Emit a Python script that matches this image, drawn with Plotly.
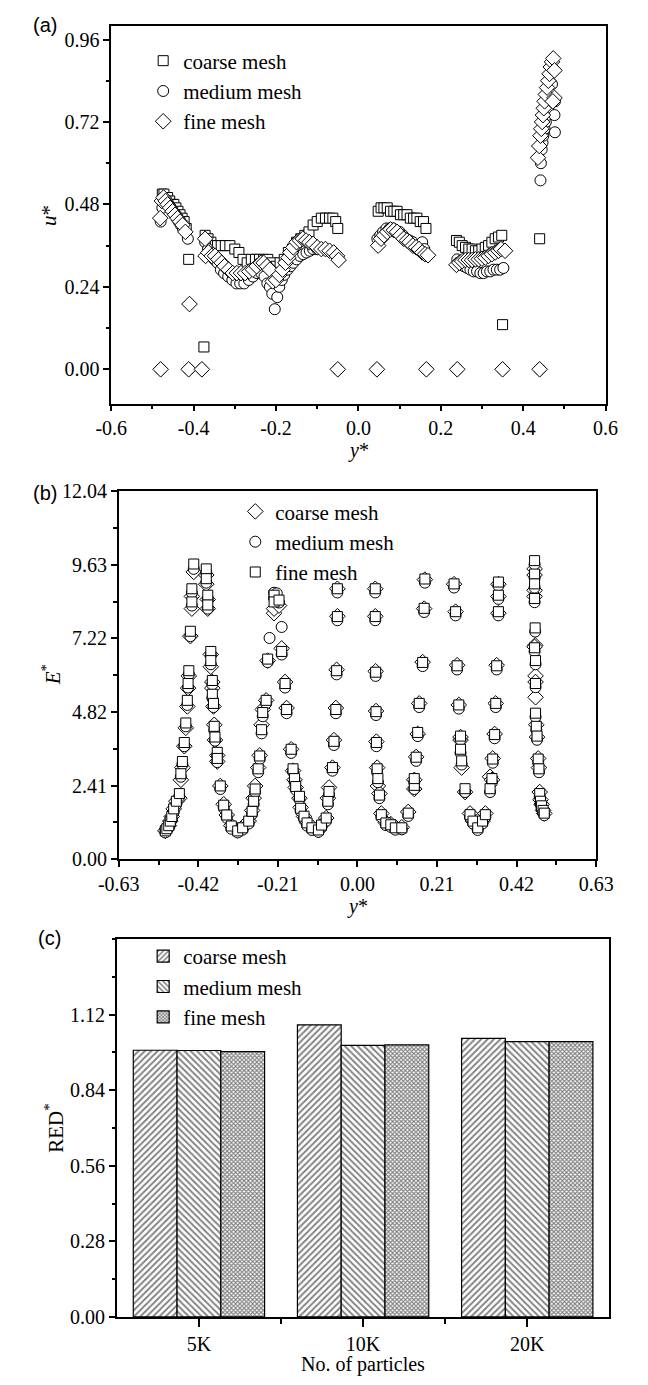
import plotly.graph_objects as go

W, H = 648, 1385
SERIF = "Liberation Serif"
SANS = "Liberation Sans"

# ---------------- panel (a): u* vs y* ----------------
a_coarse_x = [-0.476, -0.472, -0.468, -0.463, -0.458, -0.453, -0.448, -0.443, -0.438, -0.433, -0.428, -0.423, -0.418,
              -0.412, -0.375,
              -0.372, -0.365, -0.358, -0.35, -0.342, -0.333, -0.323, -0.312, -0.3, -0.29, -0.28, -0.27, -0.26, -0.25,
              -0.24, -0.23, -0.22, -0.21, -0.2, -0.19, -0.18, -0.17, -0.16, -0.15, -0.14, -0.13, -0.12, -0.11, -0.1,
              -0.09, -0.08, -0.07, -0.062, -0.055, -0.05,
              0.048, 0.055, 0.062, 0.07, 0.078, 0.086, 0.094, 0.102, 0.11, 0.118, 0.126, 0.134, 0.142, 0.15, 0.158, 0.164,
              0.238, 0.245, 0.252, 0.26, 0.268, 0.276, 0.284, 0.292, 0.3, 0.308, 0.316, 0.324, 0.332, 0.34, 0.348,
              0.35, 0.44]
a_coarse_u = [0.51, 0.51, 0.50, 0.50, 0.49, 0.48, 0.48, 0.47, 0.46, 0.45, 0.44, 0.43, 0.41,
              0.32, 0.065,
              0.39, 0.38, 0.37, 0.36, 0.36, 0.36, 0.36, 0.36, 0.35, 0.34, 0.32, 0.31, 0.32, 0.32,
              0.32, 0.32, 0.32, 0.31, 0.30, 0.31, 0.32, 0.34, 0.35, 0.37, 0.38, 0.39, 0.40, 0.42, 0.43,
              0.44, 0.44, 0.44, 0.44, 0.43, 0.41,
              0.46, 0.47, 0.47, 0.47, 0.46, 0.46, 0.46, 0.45, 0.45, 0.45, 0.44, 0.44, 0.44, 0.43, 0.43, 0.41,
              0.375, 0.37, 0.36, 0.355, 0.35, 0.35, 0.345, 0.345, 0.35, 0.355, 0.36, 0.37, 0.38, 0.385, 0.39,
              0.13, 0.38]

a_medium_x = [-0.48, -0.412, -0.38, -0.05, 0.045, 0.165, 0.24, 0.35, 0.44,
              -0.48, -0.476, -0.471, -0.466, -0.461, -0.456, -0.451, -0.446, -0.441, -0.436, -0.431, -0.426, -0.414,
              -0.372, -0.365, -0.357, -0.35, -0.342, -0.334, -0.326, -0.316, -0.306, -0.296, -0.287, -0.277, -0.266,
              -0.256, -0.246, -0.236, -0.228, -0.221, -0.215, -0.209, -0.203, -0.197, -0.192, -0.186, -0.18, -0.172,
              -0.165, -0.158, -0.15, -0.142, -0.134, -0.126, -0.118, -0.11, -0.1, -0.09, -0.08, -0.07, -0.06, -0.052,
              -0.048,
              0.046, 0.053, 0.06, 0.068, 0.076, 0.084, 0.092, 0.1, 0.108, 0.116, 0.124, 0.132, 0.14, 0.148, 0.155, 0.16,
              0.24, 0.248, 0.256, 0.264, 0.272, 0.28, 0.288, 0.296, 0.304, 0.312, 0.32, 0.328, 0.336, 0.344, 0.352,
              0.442, 0.443, 0.445, 0.447, 0.449, 0.452, 0.455, 0.458, 0.461, 0.477, 0.476, 0.477, 0.47]
a_medium_u = [0.0, 0.0, 0.0, 0.0, 0.0, 0.0, 0.0, 0.0, 0.0,
              0.43, 0.47, 0.49, 0.49, 0.48, 0.47, 0.46, 0.45, 0.44, 0.43, 0.42, 0.41, 0.38,
              0.37, 0.35, 0.34, 0.32, 0.31, 0.29, 0.28, 0.27, 0.26, 0.25, 0.25, 0.25, 0.26,
              0.27, 0.28, 0.28, 0.27, 0.25, 0.24, 0.22, 0.175, 0.21, 0.24, 0.26, 0.275, 0.29,
              0.30, 0.31, 0.32, 0.33, 0.335, 0.34, 0.345, 0.35, 0.35, 0.35, 0.35, 0.345, 0.34, 0.33,
              0.32,
              0.38, 0.39, 0.40, 0.41, 0.41, 0.41, 0.40, 0.40, 0.39, 0.38, 0.375, 0.37, 0.36, 0.36, 0.37, 0.35,
              0.32, 0.31, 0.30, 0.295, 0.29, 0.285, 0.285, 0.28, 0.28, 0.285, 0.285, 0.29, 0.29, 0.29, 0.295,
              0.55, 0.60, 0.64, 0.66, 0.68, 0.70, 0.72, 0.74, 0.76, 0.69, 0.74, 0.78, 0.83]

a_fine_x = [-0.48, -0.412, -0.38, -0.05, 0.045, 0.165, 0.24, 0.35, 0.44,
            -0.41,
            -0.481, -0.477, -0.473, -0.468, -0.463, -0.457, -0.451, -0.445, -0.439, -0.433, -0.427, -0.42,
            -0.372, -0.371, -0.364, -0.356, -0.348, -0.34, -0.332, -0.325, -0.315, -0.305, -0.295, -0.285, -0.275,
            -0.265, -0.256, -0.247, -0.237, -0.23, -0.222, -0.215, -0.208, -0.2, -0.192, -0.184, -0.177, -0.17,
            -0.165, -0.158, -0.15, -0.142, -0.135, -0.127, -0.119, -0.11, -0.1, -0.09, -0.08, -0.07, -0.06, -0.052,
            -0.048,
            0.048, 0.055, 0.062, 0.07, 0.078, 0.086, 0.094, 0.102, 0.11, 0.118, 0.124, 0.132, 0.14, 0.147, 0.155,
            0.162, 0.169,
            0.238, 0.245, 0.252, 0.26, 0.268, 0.276, 0.284, 0.292, 0.3, 0.308, 0.316, 0.324, 0.332, 0.34, 0.346, 0.356,
            0.436, 0.439, 0.442, 0.444, 0.446, 0.448, 0.45, 0.452, 0.455, 0.458, 0.461, 0.464, 0.467, 0.47, 0.473,
            0.476, 0.476, 0.472]
a_fine_u = [0.0, 0.0, 0.0, 0.0, 0.0, 0.0, 0.0, 0.0, 0.0,
            0.19,
            0.44, 0.49, 0.50, 0.49, 0.48, 0.47, 0.46, 0.45, 0.44, 0.43, 0.42, 0.40,
            0.38, 0.33, 0.34, 0.33, 0.33, 0.32, 0.31, 0.30, 0.29, 0.28, 0.28, 0.28, 0.28,
            0.285, 0.29, 0.30, 0.31, 0.31, 0.30, 0.29, 0.256, 0.26, 0.275, 0.29, 0.31, 0.325,
            0.34, 0.355, 0.37, 0.375, 0.38, 0.375, 0.37, 0.365, 0.355, 0.35, 0.35, 0.345, 0.34, 0.33,
            0.318,
            0.36, 0.38, 0.39, 0.40, 0.407, 0.405, 0.40, 0.39, 0.38, 0.375, 0.37, 0.36, 0.355, 0.35, 0.34,
            0.335, 0.332,
            0.304, 0.31, 0.315, 0.318, 0.318, 0.318, 0.32, 0.32, 0.322, 0.325, 0.33, 0.335, 0.34, 0.345, 0.35, 0.345,
            0.616, 0.65, 0.68, 0.70, 0.72, 0.74, 0.76, 0.78, 0.80, 0.82, 0.84, 0.86, 0.88, 0.895, 0.905,
            0.87, 0.79, 0.78]

a_yticks = [0.0, 0.24, 0.48, 0.72, 0.96]
a_yticktext = ["0.00", "0.24", "0.48", "0.72", "0.96"]
a_xticks = [-0.6, -0.4, -0.2, 0.0, 0.2, 0.4, 0.6]
a_xticktext = ["-0.6", "-0.4", "-0.2", "0.0", "0.2", "0.4", "0.6"]

# ---------------- panel (b): E* vs y* ----------------
b_fine_x = [-0.507, -0.503, -0.498, -0.494, -0.49, -0.485, -0.478, -0.47, -0.466, -0.462, -0.457, -0.453, -0.449,
            -0.447, -0.445, -0.441, -0.437, -0.437, -0.432,
            -0.399, -0.399, -0.395, -0.395, -0.387, -0.387, -0.383, -0.383, -0.38, -0.378, -0.376, -0.37, -0.37,
            -0.362, -0.353, -0.345, -0.333, -0.316, -0.303,
            -0.287, -0.278, -0.274, -0.27, -0.262, -0.258, -0.253, -0.25, -0.241, -0.237, -0.22, -0.22,
            -0.207, -0.2, -0.191, -0.187, -0.175, -0.17, -0.166, -0.163, -0.153, -0.15, -0.141, -0.133, -0.12, -0.103,
            -0.095, -0.0825, -0.078, -0.075, -0.066, -0.062, -0.057, -0.055, -0.053, -0.053,
            0.047, 0.047, 0.048, 0.049, 0.05, 0.052, 0.054, 0.058, 0.063, 0.075, 0.088, 0.1, 0.117, 0.134, 0.15,
            0.15, 0.155, 0.159, 0.163, 0.172, 0.176, 0.178,
            0.255, 0.259, 0.263, 0.2675, 0.272, 0.272, 0.275, 0.284, 0.297, 0.305, 0.3175, 0.33, 0.3375, 0.35,
            0.355, 0.357, 0.362, 0.365, 0.3675, 0.372, 0.372, 0.372,
            0.4675, 0.4675, 0.4675, 0.4675, 0.469, 0.4675, 0.47, 0.47, 0.47, 0.472, 0.474, 0.477, 0.479, 0.481,
            0.483, 0.486, 0.49, 0.493]
b_fine_e = [0.93, 1.0, 1.1, 1.25, 1.4, 1.65, 1.9, 2.15, 2.8, 3.2, 3.82, 4.46, 5.2,
            5.75, 6.17, 7.46, 8.42, 8.85, 9.66,
            9.5, 9.18, 8.64, 8.32, 6.8, 6.5, 5.85, 5.4, 5.1, 4.35, 4.0, 3.5, 3.3,
            2.4, 1.77, 1.45, 1.09, 0.93, 1.03,
            1.25, 1.57, 1.9, 2.3, 2.96, 3.38, 4.24, 4.8, 5.2, 6.55, 8.64, 8.42,
            8.48, 6.8, 5.75, 4.9, 3.6, 2.96, 2.64, 2.38, 2.06, 1.67, 1.41, 1.19, 1.03, 0.96,
            1.12, 1.35, 1.9, 2.22, 3.0, 3.86, 4.9, 6.17, 7.94, 8.85,
            8.85, 7.94, 6.12, 4.83, 3.82, 2.96, 2.64, 2.1, 1.46, 1.19, 1.13, 1.03, 1.03, 1.51, 2.42,
            2.64, 3.34, 4.15, 5.1, 6.44, 8.21, 9.17,
            9.01, 8.1, 6.33, 5.05, 4.03, 3.6, 3.22, 2.31, 1.46, 1.25, 1.03, 1.25, 1.46, 2.31,
            2.64, 3.28, 4.08, 5.1, 6.33, 8.1, 8.64, 9.07,
            9.77, 9.33, 9.01, 8.53, 7.57, 6.92, 6.5, 5.75, 4.78, 4.35, 4.03, 3.28, 2.96, 2.15,
            1.9, 1.75, 1.6, 1.51]

b_medium_x = b_fine_x + [-0.232, -0.2, -0.213]
b_medium_e = [0.88, 0.95, 1.05, 1.18, 1.32, 1.55, 1.8, 2.05, 2.7, 3.1, 3.7, 4.35, 5.05,
              5.62, 6.05, 7.3, 8.3, 8.72, 9.5,
              9.38, 9.05, 8.52, 8.2, 6.68, 6.38, 5.72, 5.28, 4.98, 4.22, 3.88, 3.38, 3.18,
              2.3, 1.68, 1.36, 1.0, 0.88, 0.97,
              1.17, 1.48, 1.8, 2.2, 2.85, 3.28, 4.12, 4.68, 5.1, 6.45, 8.72, 8.55,
              8.4, 6.7, 5.62, 4.78, 3.48, 2.86, 2.54, 2.28, 1.96, 1.58, 1.33, 1.1, 0.96, 0.9,
              1.05, 1.26, 1.8, 2.12, 2.9, 3.74, 4.78, 6.05, 7.82, 8.73,
              8.73, 7.82, 6.0, 4.72, 3.7, 2.85, 2.52, 2.0, 1.38, 1.12, 1.06, 0.97, 0.98, 1.42, 2.3,
              2.52, 3.22, 4.03, 4.98, 6.32, 8.09, 9.05,
              8.89, 7.98, 6.21, 4.93, 3.91, 3.48, 3.1, 2.2, 1.38, 1.17, 0.96, 1.17, 1.38, 2.2,
              2.52, 3.16, 3.96, 4.98, 6.21, 7.98, 8.52, 8.95,
              9.65, 9.21, 8.89, 8.41, 7.45, 6.8, 6.38, 5.63, 4.66, 4.23, 3.91, 3.16, 2.85, 2.05,
              1.8, 1.66, 1.52, 1.44,
              7.24, 7.6, 8.7]

b_coarse_x = b_fine_x
b_coarse_e = [0.93, 1.0, 1.1, 1.25, 1.4, 1.65, 1.9, 2.0, 2.6, 3.0, 3.7, 4.3, 5.0,
              5.6, 6.0, 7.3, 8.2, 8.6, 9.4,
              9.3, 9.0, 8.5, 8.2, 6.7, 6.3, 5.8, 5.6, 5.0, 4.4, 3.9, 3.4, 3.2,
              2.4, 1.8, 1.45, 1.1, 0.95, 1.05,
              1.25, 1.6, 2.0, 2.4, 3.0, 3.4, 4.4, 4.9, 5.2, 6.5, 8.05, 8.2,
              8.3, 6.9, 5.8, 4.95, 3.6, 2.9, 2.6, 2.35, 2.0, 1.7, 1.4, 1.2, 1.05, 0.95,
              1.12, 1.35, 2.0, 2.35, 3.0, 3.9, 4.95, 6.2, 7.95, 8.85,
              8.85, 7.95, 6.15, 4.85, 3.85, 3.0, 2.4, 2.15, 1.5, 1.2, 1.15, 1.05, 1.05, 1.55, 2.3,
              2.6, 3.35, 4.1, 5.1, 6.45, 8.2, 9.15,
              9.0, 8.1, 6.35, 5.05, 4.0, 3.9, 3.0, 2.2, 1.5, 1.25, 1.05, 1.25, 1.5, 2.7,
              2.6, 3.3, 4.1, 5.1, 6.35, 8.05, 8.6, 9.0,
              9.5, 9.3, 8.8, 8.6, 7.0, 6.95, 6.0, 5.8, 5.3, 4.4, 4.0, 3.3, 3.0, 2.2,
              1.95, 1.8, 1.6, 1.5]

b_yticks = [0.0, 2.408, 4.816, 7.224, 9.632, 12.04]
b_yticktext = ["0.00", "2.41", "4.82", "7.22", "9.63", "12.04"]
b_xticks = [-0.63, -0.42, -0.21, 0.0, 0.21, 0.42, 0.63]
b_xticktext = ["-0.63", "-0.42", "-0.21", "0.00", "0.21", "0.42", "0.63"]

# ---------------- panel (c): RED* bars ----------------
c_categories = ["5K", "10K", "20K"]
c_coarse = [0.988, 1.082, 1.032]
c_medium = [0.987, 1.006, 1.020]
c_fine = [0.983, 1.008, 1.020]
c_yticks = [0.0, 0.28, 0.56, 0.84, 1.12]
c_yticktext = ["0.00", "0.28", "0.56", "0.84", "1.12"]

# ---------------- geometry helpers ----------------
def fx(p):
    return p / W

def fy(p):
    return 1 - p / H

TICKFONT = dict(family=SERIF, size=20, color="black")

def axis(**kw):
    base = dict(showline=True, linecolor="black", linewidth=1.5, mirror=True,
                showgrid=False, zeroline=False, ticks="outside", ticklen=6, tickwidth=1.5,
                tickcolor="black", tickfont=TICKFONT, tickmode="array")
    base.update(kw)
    return base

def minor(dtick, tick0=0):
    return dict(dtick=dtick, tick0=tick0, ticks="outside", ticklen=3.5, tickwidth=1.5,
                tickcolor="black", showgrid=False)

fig = go.Figure()

def mk(sym, size):
    return dict(symbol=sym, size=size, color="white", line=dict(color="black", width=1))

# panel a traces
fig.add_trace(go.Scatter(x=a_coarse_x, y=a_coarse_u, mode="markers", name="coarse mesh",
                         marker=mk("square", 10), xaxis="x", yaxis="y", legend="legend"))
fig.add_trace(go.Scatter(x=a_medium_x, y=a_medium_u, mode="markers", name="medium mesh",
                         marker=mk("circle", 11), xaxis="x", yaxis="y", legend="legend"))
fig.add_trace(go.Scatter(x=a_fine_x, y=a_fine_u, mode="markers", name="fine mesh",
                         marker=mk("diamond", 12), xaxis="x", yaxis="y", legend="legend"))

# panel b traces
fig.add_trace(go.Scatter(x=b_coarse_x, y=b_coarse_e, mode="markers", name="coarse mesh",
                         marker=mk("diamond", 12), xaxis="x2", yaxis="y2", legend="legend2"))
fig.add_trace(go.Scatter(x=b_medium_x, y=b_medium_e, mode="markers", name="medium mesh",
                         marker=mk("circle", 11), xaxis="x2", yaxis="y2", legend="legend2"))
fig.add_trace(go.Scatter(x=b_fine_x, y=b_fine_e, mode="markers", name="fine mesh",
                         marker=mk("square", 10), xaxis="x2", yaxis="y2", legend="legend2"))

# panel c bars
c_pos = list(range(len(c_categories)))
for name, vals, shape, size, sol in [("coarse mesh", c_coarse, "/", 4.5, 0.4),
                                     ("medium mesh", c_medium, "\\", 4.5, 0.4),
                                     ("fine mesh", c_fine, "x", 3, 0.6)]:
    fig.add_trace(go.Bar(x=c_pos, y=vals, name=name, xaxis="x3", yaxis="y3", legend="legend3",
                         marker=dict(color="white", line=dict(color="black", width=1.2),
                                     pattern=dict(shape=shape, size=size, solidity=sol,
                                                  fgcolor="black", bgcolor="white"))))

legend_font = dict(family=SERIF, size=21, color="black")

fig.update_layout(
    width=W, height=H, margin=dict(l=0, r=0, t=0, b=0),
    font=dict(family=SERIF, size=20, color="black"),
    paper_bgcolor="white", plot_bgcolor="white", showlegend=True,
    barmode="group", bargap=0.2, bargroupgap=0,
    xaxis=axis(domain=[fx(96), fx(622)], anchor="y", range=[-0.6, 0.6],
               tickvals=a_xticks, ticktext=a_xticktext, minor=minor(0.1)),
    yaxis=axis(domain=[fy(399), fy(15)], anchor="x", range=[-0.10, 1.0],
               tickvals=a_yticks, ticktext=a_yticktext, minor=minor(0.12)),
    xaxis2=axis(domain=[fx(104), fx(612)], anchor="y2", range=[-0.63, 0.63],
                tickvals=b_xticks, ticktext=b_xticktext, minor=minor(0.105)),
    yaxis2=axis(domain=[fy(862), fy(488)], anchor="x2", range=[0, 12.04],
                tickvals=b_yticks, ticktext=b_yticktext, minor=minor(1.204)),
    xaxis3=axis(domain=[fx(102), fx(626)], anchor="y3", range=[-0.5, 2.5],
                tickvals=c_pos, ticktext=c_categories, ticklen=8,
                minor=dict(tickmode="array", tickvals=[0.5, 1.5], ticks="outside", ticklen=5,
                           tickwidth=1.5, tickcolor="black")),
    yaxis3=axis(domain=[fy(1327), fy(943)], anchor="x3", range=[0, 1.4],
                tickvals=c_yticks, ticktext=c_yticktext, minor=minor(0.14)),
    legend=dict(x=fx(130), y=fy(30), xanchor="left", yanchor="top", font=legend_font,
                bgcolor="rgba(0,0,0,0)", itemsizing="trace"),
    legend2=dict(x=fx(228), y=fy(488), xanchor="left", yanchor="top", font=legend_font,
                 bgcolor="rgba(0,0,0,0)", itemsizing="trace"),
    legend3=dict(x=fx(130), y=fy(940), xanchor="left", yanchor="top", font=legend_font,
                 bgcolor="rgba(0,0,0,0)"),
)

ann = []
def add_text(text, x, y, size=21, family=SERIF, angle=0):
    ann.append(dict(text=text, x=fx(x), y=fy(y), xref="paper", yref="paper", showarrow=False,
                    font=dict(family=family, size=size, color="black"), textangle=angle,
                    xanchor="center", yanchor="middle"))

add_text("(a)", 26, 14, size=20, family=SANS)
add_text("(b)", 26, 490, size=20, family=SANS)
add_text("(c)", 30, 942, size=20, family=SANS)
add_text("<i>u</i>*", 30, 208, angle=-90)
add_text("<i>y</i>*", 359, 447, size=20)
add_text("<i>E</i><sup>*</sup>", 32, 675, angle=-90)
add_text("<i>y</i>*", 358, 910, size=20)
add_text("RED<sup>*</sup>", 36, 1135, angle=-90)
add_text("No. of particles", 364, 1375, size=20)
fig.update_layout(annotations=ann)

fig.write_html("out.html")
